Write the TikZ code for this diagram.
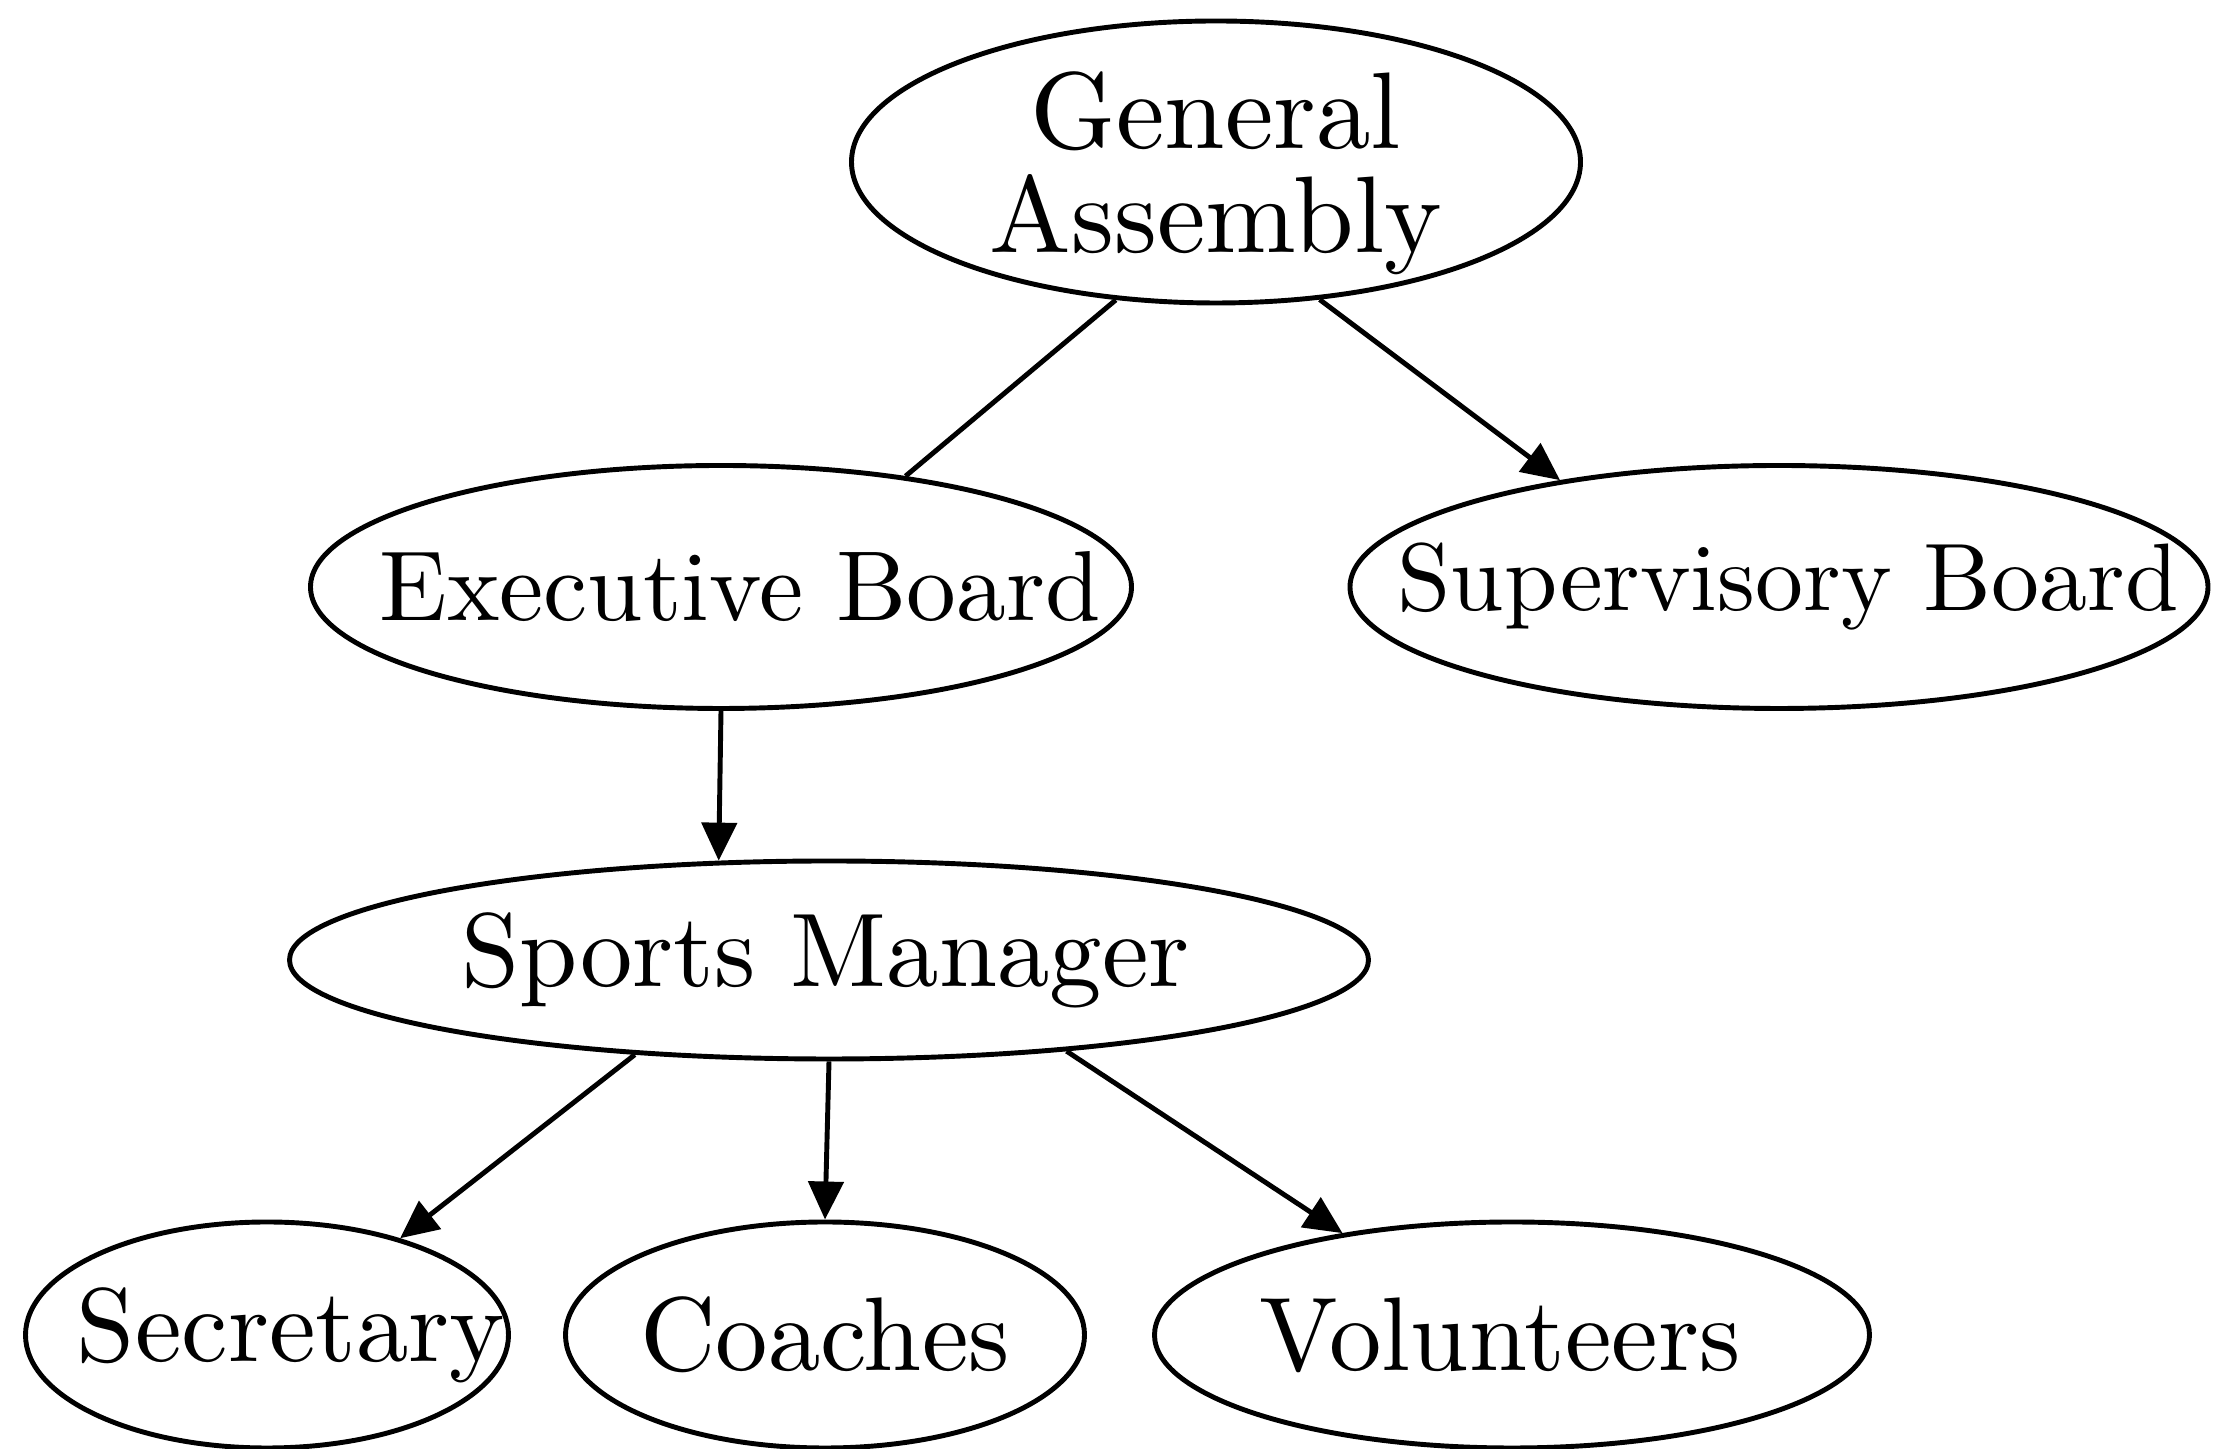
\documentclass[tikz,border=0pt]{standalone}
\usepackage{fontspec}
\setmainfont{lmroman10-regular.otf}
\usetikzlibrary{arrows.meta, shapes.geometric}

% text centred on the node, moved sideways by #1
\newcommand{\offtext}[2]{\makebox[0pt]{\hspace*{#1}\hspace*{#1}#2}}

\tikzset{
    unit/.style 2 args={ellipse, draw, line width=1.4pt, inner sep=0pt, minimum width=#1, minimum height=#2},
    link/.style={line width=1.4pt, -{Triangle[length=0.38cm, width=0.35cm]}},
}

\begin{document}
\begin{tikzpicture}[font=\fontsize{29.8}{31}\selectfont]
    \useasboundingbox (0,0) rectangle (22.13,14.49);
    % top level
    \node [unit={7.29cm}{2.82cm}, align=center, text depth=0pt, font=\fontsize{31}{29.6}\selectfont] (assembly) at (12.16,12.87) {\offtext{0cm}{General}\\\offtext{0cm}{Assembly}};
    \node [unit={8.21cm}{2.43cm}, font=\fontsize{28.3}{31}\selectfont] (executive) at (7.21,8.62) {\offtext{0.19cm}{Executive Board}};
    \node [unit={8.58cm}{2.43cm}, font=\fontsize{27.3}{31}\selectfont] (supervisory) at (17.79,8.62) {\offtext{0.09cm}{Supervisory Board}};
    \node [unit={10.79cm}{1.98cm}] (manager) at (8.29,4.89) {\offtext{-0.035cm}{Sports Manager}};
    % bottom row
    \node [unit={4.83cm}{2.26cm}] (secretary) at (2.67,1.14) {\offtext{0.24cm}{Secretary}};
    \node [unit={5.19cm}{2.26cm}] (coaches) at (8.25,1.14) {\offtext{0cm}{Coaches}};
    \node [unit={7.15cm}{2.26cm}] (volunteers) at (15.12,1.14) {\offtext{-0.12cm}{Volunteers}};
    % connections
    \draw [line width=1.4pt] (assembly.234) -- (executive.31);
    \draw [link] (assembly.307) -- (supervisory.154);
    \draw [link] (executive.south) -- (manager.138);
    \draw [link] (manager.206) -- (secretary.36);
    \draw [link] (manager.south) -- (coaches.north);
    \draw [link] (manager.339) -- (volunteers.149);
\end{tikzpicture}
\end{document}
